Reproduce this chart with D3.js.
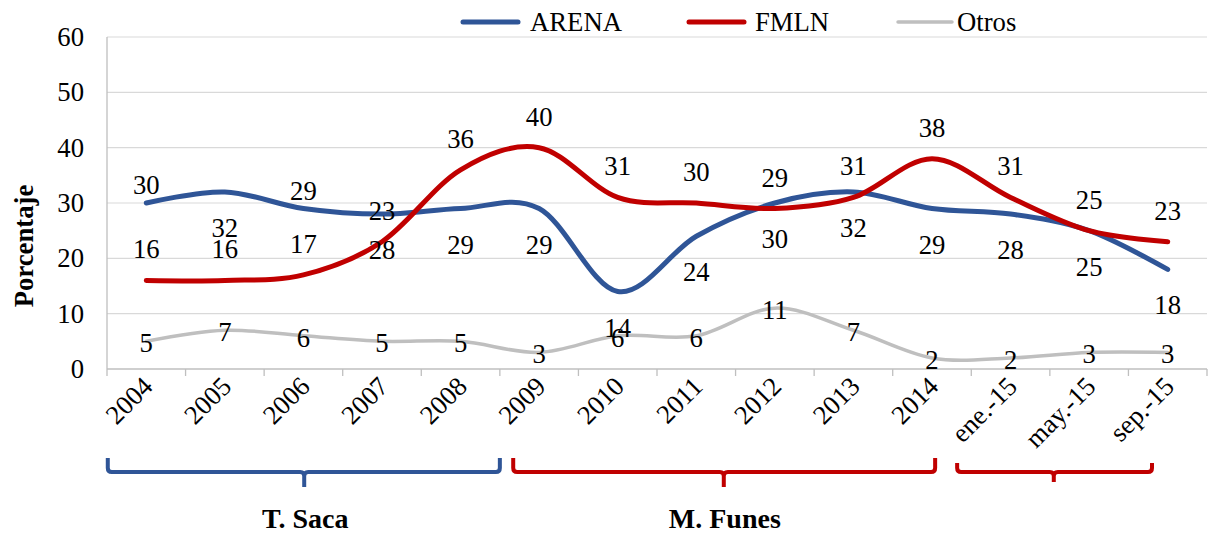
<!DOCTYPE html>
<html>
<head>
<meta charset="utf-8">
<script src="https://cdn.jsdelivr.net/npm/d3@7/dist/d3.min.js"></script>
<style>
  html, body { margin: 0; padding: 0; background: #fff; }
  svg { display: block; font-family: "Liberation Serif", "Times New Roman", serif; }
</style>
</head>
<body>
<svg id="chart" width="1209" height="534"></svg>
<script>
// ---------- data ----------
const categories = ["2004","2005","2006","2007","2008","2009","2010","2011","2012","2013","2014","ene.-15","may.-15","sep.-15"];
const arena = [30,32,29,28,29,29,14,24,30,32,29,28,25,18];
const fmln  = [16,16,17,23,36,40,31,30,29,31,38,31,25,23];
const otros = [5,7,6,5,5,3,6,6,11,7,2,2,3,3];
const seriesNames = ["ARENA","FMLN","Otros"];
const yTicks = [0,10,20,30,40,50,60];
// label placement for ARENA ('a' = above, 'b' = below)
const arenaLabelPos = ["a","b","a","b","b","b","b","b","b","b","b","b","b","b"];
// presidential periods, in category-index units
const periods = [
  {name: "T. Saca",  from: 0.01, to: 5.0,  mid: 2.51,  color: "#2F5597", label: true,  big: true},
  {name: "M. Funes", from: 5.17, to: 10.54, mid: 7.85, color: "#C00000", label: true,  big: true},
  {name: "",         from: 10.82, to: 13.3, mid: 12.05, color: "#C00000", label: false, big: false}
];

// ---------- layout ----------
const svg = d3.select("#chart");
const L = 107, R = 1207, T = 37, B = 369;
const colors = {ARENA: "#2F5597", FMLN: "#C00000", Otros: "#BFBFBF"};
const widths = {ARENA: 5, FMLN: 5, Otros: 3.5};
const fs = 26.7;

const x = d3.scaleBand().domain(categories).range([L, R]).paddingInner(0).paddingOuter(0);
const xc = c => x(c) + x.bandwidth() / 2;
const xi = d3.scaleLinear().domain([0, categories.length]).range([L, R]);
const y = d3.scaleLinear().domain([0, 60]).range([B, T]);

// gridlines
svg.append("g").selectAll("line").data(yTicks.filter(t => t > 0)).join("line")
  .attr("x1", L).attr("x2", R)
  .attr("y1", d => y(d)).attr("y2", d => y(d))
  .attr("stroke", "#D9D9D9").attr("stroke-width", 1.2);

// y axis
svg.append("line").attr("x1", L).attr("x2", L).attr("y1", T).attr("y2", B)
  .attr("stroke", "#BFBFBF").attr("stroke-width", 1.3);
svg.append("g").selectAll("text").data(yTicks).join("text")
  .attr("x", 84).attr("y", d => y(d) + 9)
  .attr("text-anchor", "end").attr("font-size", fs).attr("fill", "#000")
  .text(d => d);

// x axis
svg.append("line").attr("x1", L).attr("x2", R).attr("y1", B).attr("y2", B)
  .attr("stroke", "#BFBFBF").attr("stroke-width", 1.3);
const boundaries = categories.map(c => x(c)).concat([R]);
svg.append("g").selectAll("line").data(boundaries).join("line")
  .attr("x1", d => d).attr("x2", d => d).attr("y1", B).attr("y2", B + 7)
  .attr("stroke", "#BFBFBF").attr("stroke-width", 1.3);
svg.append("g").selectAll("text").data(categories).join("text")
  .attr("transform", c => `translate(${xc(c) + 8},${B + 19}) rotate(-45)`)
  .attr("text-anchor", "end").attr("font-size", fs).attr("fill", "#000")
  .text(c => c);

// y axis title
svg.append("text")
  .attr("transform", `translate(33,246) rotate(-90)`)
  .attr("text-anchor", "middle").attr("font-size", fs).attr("font-weight", "bold")
  .text("Porcentaje");

// lines
const seriesData = [arena, fmln, otros];
const line = d3.line().x((d, i) => xc(categories[i])).y(d => y(d)).curve(d3.curveCardinal.tension(0));
seriesNames.forEach((name, k) => {
  svg.append("path").datum(seriesData[k])
    .attr("d", line).attr("fill", "none")
    .attr("stroke", colors[name]).attr("stroke-width", widths[name])
    .attr("stroke-linecap", "round").attr("stroke-linejoin", "round");
});

// data labels
const lbl = svg.append("g").attr("font-size", fs).attr("fill", "#000").attr("text-anchor", "middle");
arena.forEach((v, i) => {
  const off = arenaLabelPos[i] === "a" ? -18 : 36;
  lbl.append("text").attr("x", xc(categories[i])).attr("y", y(v) + off + 9).text(v);
});
fmln.forEach((v, i) => {
  lbl.append("text").attr("x", xc(categories[i])).attr("y", y(v) - 31 + 9).text(v);
});
otros.forEach((v, i) => {
  lbl.append("text").attr("x", xc(categories[i])).attr("y", y(v) + 2 + 9).text(v);
});

// legend
const legendItems = [
  {name: "ARENA", x1: 463, x2: 518, tx: 530},
  {name: "FMLN",  x1: 689, x2: 744, tx: 755},
  {name: "Otros", x1: 898, x2: 952, tx: 957}
];
legendItems.forEach(it => {
  svg.append("line").attr("x1", it.x1).attr("x2", it.x2).attr("y1", 22).attr("y2", 22)
    .attr("stroke", colors[it.name]).attr("stroke-width", widths[it.name]).attr("stroke-linecap", "round");
  svg.append("text").attr("x", it.tx).attr("y", 31).attr("font-size", fs).text(it.name);
});

// period brackets
periods.forEach(p => {
  const x1 = xi(p.from), x2 = xi(p.to), xm = xi(p.mid);
  const yl = 472, top = p.big ? 458 : 463, bot = p.big ? 487 : 482, r = 4;
  const d = `M${x1},${top} L${x1},${yl - r} Q${x1},${yl} ${x1 + r},${yl} L${xm - r},${yl} Q${xm},${yl} ${xm},${yl + r} L${xm},${bot}` +
            ` M${xm},${yl + r} Q${xm},${yl} ${xm + r},${yl} L${x2 - r},${yl} Q${x2},${yl} ${x2},${yl - r} L${x2},${top}`;
  svg.append("path").attr("d", d).attr("fill", "none").attr("stroke", p.color).attr("stroke-width", 4);
  if (p.label) {
    svg.append("text").attr("x", xm + 1).attr("y", 528).attr("text-anchor", "middle")
      .attr("font-size", 28).attr("font-weight", "bold").text(p.name);
  }
});
</script>
</body>
</html>
